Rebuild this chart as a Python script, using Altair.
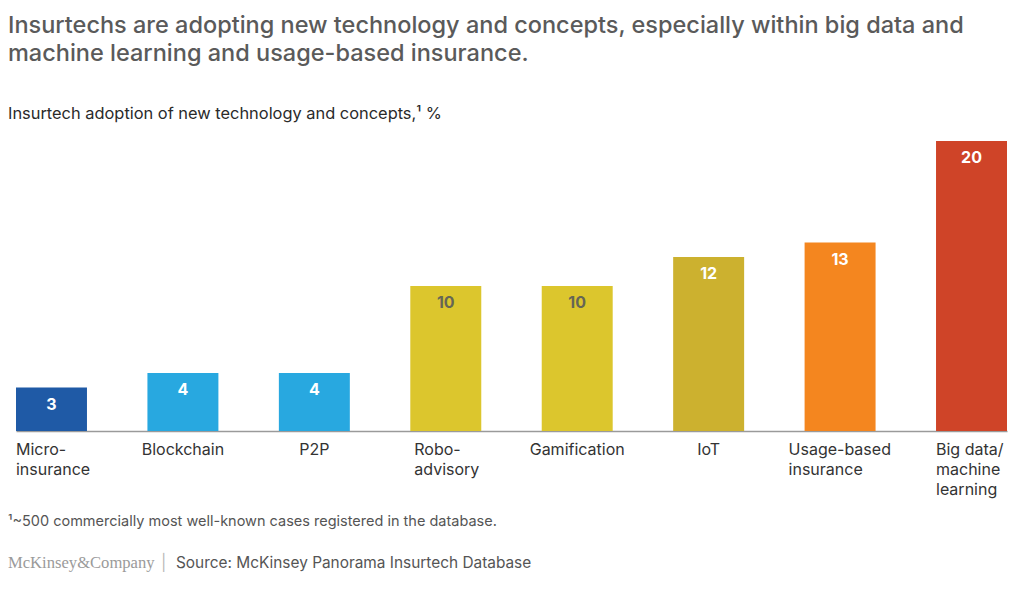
import altair as alt
import pandas as pd

# ---- data ----
label_lines = [
    ["Micro-", "insurance"],
    ["Blockchain"],
    ["P2P"],
    ["Robo-", "advisory"],
    ["Gamification"],
    ["IoT"],
    ["Usage-based", "insurance"],
    ["Big data/", "machine", "learning"],
]
categories = ["|".join(l) for l in label_lines]
values = [3, 4, 4, 10, 10, 12, 13, 20]
bar_colors = ["#1f5aa6", "#28a8e0", "#28a8e0", "#dcc62d", "#dcc62d",
              "#ccb12f", "#f4861f", "#cf4428"]
value_label_colors = ["#ffffff", "#ffffff", "#ffffff", "#666655", "#666655",
                      "#ffffff", "#ffffff", "#ffffff"]

headline = ["Insurtechs are adopting new technology and concepts, especially within big data and",
            "machine learning and usage-based insurance."]
subtitle = "Insurtech adoption of new technology and concepts,\u00b9 %"
footnote = "\u00b9~500 commercially most well-known cases registered in the database."
brand = "McKinsey&Company"
source = "Source: McKinsey Panorama Insurtech Database"

df = pd.DataFrame({
    "cat": categories,
    "value": values,
    "color": bar_colors,
    "lcolor": value_label_colors,
})

# left offsets for multi-line labels (left-aligned block centred under bar)
multi_offsets = {
    "Micro-|insurance": -35.5,
    "Robo-|advisory": -31.5,
    "Usage-based|insurance": -51.5,
    "Big data/|machine|learning": -35.5,
}
align_cond = {
    "condition": [{"test": f"datum.value === '{k}'", "value": "left"} for k in multi_offsets],
    "value": "center",
}
offset_cond = {
    "condition": [{"test": f"datum.value === '{k}'", "value": v} for k, v in multi_offsets.items()],
    "value": 0,
}

FONT = "Inter"

x_enc = alt.X(
    "cat:N",
    sort=categories,
    scale=alt.Scale(paddingInner=0.46, paddingOuter=0),
    axis=alt.Axis(
        title=None,
        labelAngle=0,
        ticks=False,
        domainColor="#9a9a9a",
        domainWidth=1.5,
        labelPadding=10,
        labelFont=FONT,
        labelFontSize=16,
        labelColor="#333333",
        labelLineHeight=20,
        labelLimit=0,
        labelExpr="split(datum.label, '|')",
        labelAlign=align_cond,
        labelOffset=offset_cond,
    ),
)
y_enc = alt.Y("value:Q", scale=alt.Scale(domain=[0, 20], nice=False), axis=None)

base = alt.Chart(df)
bars = base.mark_bar().encode(
    x=x_enc, y=y_enc, color=alt.Color("color:N", scale=None)
)
vlabels = base.mark_text(
    baseline="top", dy=9, font=FONT, fontSize=16, fontWeight="bold"
).encode(
    x=alt.X("cat:N", sort=categories),
    y=alt.Y("value:Q"),
    text=alt.Text("value:Q"),
    color=alt.Color("lcolor:N", scale=None),
)


def txt(t, x, y, size, color, weight="normal", font=FONT):
    return alt.Chart(pd.DataFrame({"t": [t]})).mark_text(
        align="left", baseline="alphabetic", font=font, fontSize=size,
        fontWeight=weight, color=color
    ).encode(x=alt.value(x), y=alt.value(y), text="t:N")


# plot origin sits at page (16, 141)
texts = [
    txt(headline[0], -8, 33 - 141, 23.5, "#5a5a5a", 500),
    txt(headline[1], -8, 61 - 141, 23.5, "#5a5a5a", 500),
    txt(subtitle, -8, 119 - 141, 16.4, "#2a2a2a", 400),
    txt(footnote, -8, 526 - 141, 14.5, "#555555"),
    txt(brand, -8, 568 - 141, 16.6, "#9a9a9a", font="Liberation Serif"),
    txt("|", 161 - 16, 568 - 141, 16, "#bbbbbb"),
    txt(source, 176 - 16, 568 - 141, 15.4, "#555555"),
]

chart = alt.layer(bars, vlabels, *texts).properties(
    width=991,
    height=290,
    autosize=alt.AutoSizeParams(type="none"),
    padding={"left": 8, "top": 133, "right": 5, "bottom": 150},
).configure_view(stroke=None)

chart.save("out.html", embed_options={"renderer": "svg", "actions": False})
